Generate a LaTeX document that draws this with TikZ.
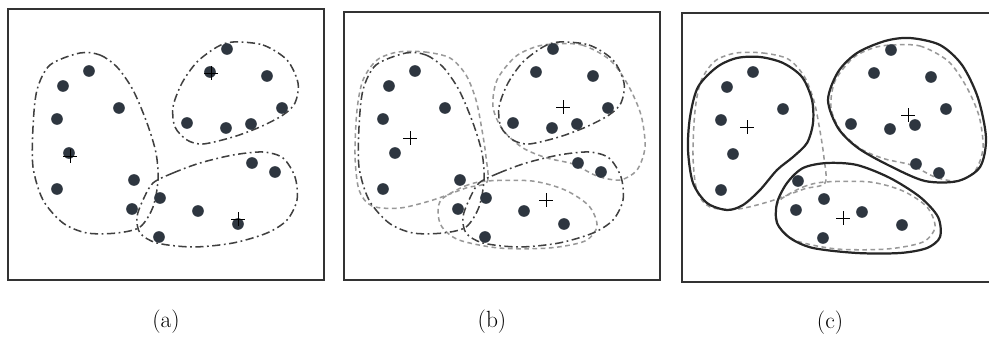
\documentclass[tikz,border=0pt]{standalone}
\usepackage{tikz}
\definecolor{dotgray}{HTML}{2E3640}
\tikzset{
  dot/.style={circle, fill=dotgray, minimum size=3.5mm, inner sep=0pt},
  panel/.style={line width=1.6pt, draw=black!80},
  oldclus/.style={line width=1.3pt, black!75, dash pattern=on 7pt off 3pt on 1.5pt off 3pt},
  newclus/.style={line width=1.3pt, black!40, dash pattern=on 4pt off 3pt},
  finclus/.style={line width=1.9pt, black!85},
  centre/.pic={\draw[line width=0.8pt] (-7,0) -- (7,0) (0,-7) -- (0,7);}
}
% data points (panel b coordinates)
\newcommand{\pts}{415/71, 389/86, 445/108, 383/119, 395/153, 383/189,
  460/180, 458/209, 486/198, 524/211, 564/224, 485/237,
  553/49, 536/72, 593/76, 608/108, 513/123, 552/128, 577/124, 578/163, 601/172}
% initial partition
\newcommand{\oldL}{plot[smooth cycle] coordinates {(406,53) (426,55) (443,67) (459,90)
  (473,123) (482,153) (484,180) (479,207) (466,227) (443,233) (413,233) (389,223)
  (369,200) (359,167) (359,127) (363,90) (376,65)}}
\newcommand{\oldR}{plot[smooth cycle] coordinates {(559,42) (589,45) (613,60) (624,83)
  (621,103) (609,115) (586,127) (559,137) (529,144) (513,140) (501,127) (499,107)
  (508,83) (523,62) (543,47)}}
\newcommand{\oldB}{plot[smooth cycle] coordinates {(479,183) (499,173) (526,163)
  (559,155) (589,152) (609,158) (621,177) (623,200) (613,220) (593,233) (559,243)
  (519,247) (483,243) (466,233) (463,217) (469,200)}}
% partition after one step
\newcommand{\newL}{plot[smooth cycle] coordinates {(398,52) (425,52) (450,58) (466,75)
  (476,100) (482,130) (486,157) (487,182) (466,188) (433,200) (400,208) (372,206)
  (359,190) (355,155) (357,110) (363,80) (377,60)}}
\newcommand{\newR}{plot[smooth cycle] coordinates {(553,44) (582,45) (610,60) (628,85)
  (641,115) (645,147) (637,170) (620,180) (597,176) (573,164) (547,158) (523,148)
  (503,130) (493,107) (497,80) (515,57) (535,47)}}
\newcommand{\newB}{plot[smooth cycle] coordinates {(442,199) (465,186) (487,181)
  (532,181) (565,190) (589,206) (597,226) (585,241) (549,248) (499,248) (459,240)
  (442,227) (438,212)}}

\begin{document}
\begin{tikzpicture}[x=0.3mm, y=-0.3mm]
  \useasboundingbox[fill=white] (0,0) rectangle (989,338);

  % frames
  \draw[panel] (8,9) rectangle (324,280);
  \draw[panel] (344,12) rectangle (660,280);
  \draw[panel] (682,13) rectangle (996,282);

  % (a)
  \begin{scope}[shift={(-326,0)}]
    \draw[oldclus] \oldL;
    \draw[oldclus] \oldR;
    \draw[oldclus] \oldB;
  \end{scope}

  % (b)
  \draw[newclus] \newL;
  \draw[newclus] \newR;
  \draw[newclus] \newB;
  \draw[oldclus] \oldL;
  \draw[oldclus] \oldR;
  \draw[oldclus] \oldB;

  % (c)
  \begin{scope}[shift={(338,1)}]
    \draw[newclus] \newL;
    \draw[newclus] \newR;
    \draw[newclus] \newB;
    \draw[finclus] plot[smooth cycle] coordinates {(422,56) (445,62) (464,76) (474,99)
      (475,122) (469,142) (455,156) (439,169) (422,189) (405,204) (389,209) (369,202)
      (355,182) (350,149) (352,116) (360,86) (379,66) (399,57)};
    \draw[finclus] plot[smooth cycle] coordinates {(490,99) (500,71) (519,52) (547,40)
      (572,37) (602,44) (624,64) (640,97) (648,137) (642,166) (620,180) (587,180)
      (552,165) (520,147) (500,127)};
    \draw[finclus] plot[smooth cycle] coordinates {(439,202) (449,182) (465,167)
      (489,162) (519,164) (552,177) (582,196) (600,216) (602,236) (589,247) (562,252)
      (519,252) (475,247) (452,237) (439,222)};
  \end{scope}

  % points and labels
  \foreach \pnl/\dx/\dy in {a/-326/0, b/0/0, c/338/1}{
    \begin{scope}[shift={(\dx,\dy)}]
      \foreach \x/\y [count=\i] in \pts
        \node[dot] (\pnl\i) at (\x,\y) {};
      \node[font=\fontsize{20}{24}\selectfont] (lab\pnl) at (492,322) {(\pnl)};
    \end{scope}
  }

  % cluster centres
  \begin{scope}[shift={(-326,0)}]
    \pic at (396,156) {centre};
    \pic at (537,73) {centre};
    \pic at (564,219) {centre};
  \end{scope}
  \pic at (410,138) {centre};
  \pic at (546,200) {centre};
  \pic at (563,107) {centre};
  \begin{scope}[shift={(338,1)}]
    \pic at (409,126) {centre};
    \pic at (505,217) {centre};
    \pic at (570,114) {centre};
  \end{scope}
\end{tikzpicture}
\end{document}
